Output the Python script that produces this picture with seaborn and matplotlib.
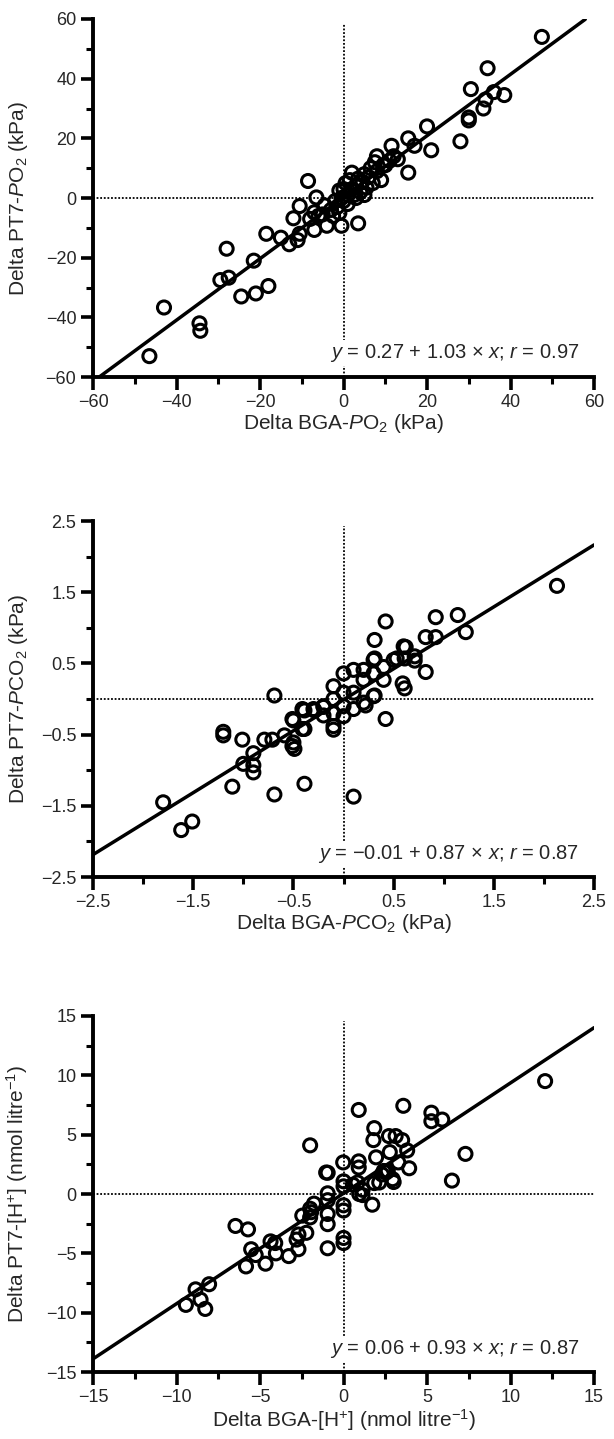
import numpy as np
import pandas as pd
import matplotlib
matplotlib.use("Agg")
import matplotlib.pyplot as plt
from matplotlib.ticker import FixedLocator
import seaborn as sns

# ---------------- data ----------------
# Panel 1: PO2 (kPa)
po2_x = [47.5, 34.5, 30.5, 38.5, 36, 34, 33.5, 30, 30, 28, 20, 21, 15.5, 11.5, 17, 15.5, 8, 13, 10,
         -8.5, -6.5, -10.5, -12, -7, -7, -4, -0.5, 3.5, -18.5, -15, -13, -11, -10.5, -28, -21.5,
         -29.5, -27.5, -18, -24.5, -21, -43, -34.5, -34.3, -46.5,
         -3, -2, -1.5, -1, -0.5, 0, 0, 0.5, 1, 1.5, 2, 2, 2.5, 3, 3.5, 4, 4.5, 5, 5.5, 6, 6.5, 7,
         7.5, 8, 9, 9.5, 11, 12, -5, -4.5, -2.5, -1, -6, -8, 1, 3, 5]
po2_y = [54, 43.5, 36.5, 34.5, 35.5, 33, 30, 27, 26, 19, 24, 16, 20, 17.5, 17.5, 8.5, 14, 13, 11,
         5.7, 0.2, -2.7, -6.8, -4.8, -10.7, -9.3, -9.3, -8.5, -12, -13.3, -15.5, -14.1, -12, -17, -21,
         -27.5, -26.7, -29.5, -33, -32, -36.7, -42, -44.5, -53,
         -4, -1, -3, 2.5, 0, -1, 3, 5, 1, 6, 3, 8.5, 1, 4, 6.5, 2, 5.5, 8, 3.5, 7, 10, 5,
         12, 9, 6, 11, 12.5, 14, -5.5, -2.5, -6, -5, -6, -7, -2, 0, 1]
po2_fit = (0.27, 1.03, 0.97)

# Panel 2: PCO2 (kPa)
pco2_x = [2.13, 1.14, 0.92, 1.22, 0.82, 0.92, 0.42, 0.31, 0.62, 0.71, 0.82, 0.31, 0.53, 0.61, 0.71,
          0.59, 0.61, 0.42, 0.22, 0.31, -0.69, -1.20, -1.20, -1.01, -0.79, -0.71, -0.59, -0.50, -0.49,
          -0.90, -1.00, -0.90, -0.90, -1.11, -0.69, -0.39, 0.10, -1.80, -1.62, -1.51, -0.50, -0.39,
          -0.39, -0.29, -0.20, -0.20,
          0.0, -0.10, -0.10, -0.10, -0.10, -0.10, 0.0, 0.0, 0.0, 0.10, 0.10, 0.10, 0.20, 0.20, 0.20,
          0.30, 0.30, 0.30, 0.40, 0.40, 0.50, 0.60, -0.20, -0.30, -0.41, -0.51, -0.41, -0.51]
pco2_y = [1.59, 1.18, 1.15, 0.94, 0.87, 0.87, 1.09, 0.83, 0.73, 0.60, 0.38, 0.57, 0.57, 0.57, 0.54,
          0.22, 0.15, -0.28, -0.09, 0.05, 0.05, -0.46, -0.51, -0.57, -0.57, -0.57, -0.51, -0.61, -0.70,
          -0.76, -0.91, -0.93, -1.03, -1.23, -1.34, -1.19, -1.37, -1.45, -1.84, -1.72, -0.30, -0.16,
          -0.42, -0.16, -0.11, -0.23,
          0.36, 0.18, 0.0, -0.20, -0.38, -0.43, 0.09, -0.10, -0.24, 0.41, 0.09, -0.14, 0.41, 0.27, -0.05,
          0.55, 0.36, 0.04, 0.45, 0.27, 0.55, 0.74, -0.10, -0.14, -0.14, -0.28, -0.42, -0.66]
pco2_fit = (-0.01, 0.87, 0.87)

# Panel 3: [H+] (nmol/litre)
h_x = [12.07, 0.91, 3.58, 5.26, 5.26, 5.91, 1.84, 1.79, 2.72, 3.12, 3.51, 3.81, 2.77, 7.30, 1.95,
       3.28, 3.93, 0.91, 0.91, -0.02, 6.49, -0.95, -2.0, 1.84, 3.0, 2.3, 2.4, 2.65, 0.0, 0.0, 0.56,
       1.14, 1.14, 1.72, -0.95, -0.95, -1.77, -2.0, -2.0, -2.47, -0.95, -0.95, 0.0, 0.0, 0.0, 0.0,
       -0.95, -2.70, -2.81, -2.23, -2.70, -3.28, -4.09, -4.37, -4.05, -4.67, -5.26, -5.53, -5.84,
       -5.72, -6.47, -8.05, -8.86, -8.56, -8.28, -9.44, 0.84, 0.94, 2.54, 2.14, 2.94, -1.04, -1.94]
h_y = [9.51, 7.08, 7.43, 6.85, 6.13, 6.27, 5.55, 4.54, 4.88, 4.88, 4.54, 3.67, 3.53, 3.38, 3.09,
       2.66, 2.17, 2.75, 2.23, 2.66, 1.13, 1.79, 4.10, 0.92, 1.01, 1.65, 1.94, 1.94, 1.07, 0.64, 0.78,
       0.35, -0.09, -0.90, 0.06, -0.52, -0.81, -1.24, -1.97, -1.82, -1.68, -2.54, -0.95, -1.39, -3.70,
       -4.13, -4.57, -3.41, -3.84, -3.27, -4.65, -5.23, -4.13, -3.99, -5.0, -5.87, -5.14, -4.65, -6.10,
       -2.98, -2.69, -7.60, -8.03, -8.90, -9.68, -9.34, 0.97, 0.0, 1.81, 0.97, 1.25, 1.81, -1.53]
h_fit = (0.06, 0.93, 0.87)

# ---------------- style ----------------
sns.set_style("ticks")
plt.rcParams["font.family"] = ["Liberation Sans", "DejaVu Sans"]
plt.rcParams["mathtext.fontset"] = "custom"
plt.rcParams["mathtext.rm"] = "Liberation Sans"
plt.rcParams["mathtext.it"] = "Liberation Sans:italic"
plt.rcParams["mathtext.bf"] = "Liberation Sans:bold"

fig = plt.figure(figsize=(6.14, 14.39), dpi=100)

left, width = 0.1515, 0.816
panels = [
    dict(x=po2_x, y=po2_y, fit=po2_fit, lim=60, minor=[-50, -30, -10, 10, 30, 50],
         ticks=[-60, -40, -20, 0, 20, 40, 60],
         xlabel="Delta BGA-$P$O$_2$ (kPa)", ylabel="Delta PT7-$P$O$_2$ (kPa)",
         rect=[left, 0.738, width, 0.2488]),
    dict(x=pco2_x, y=pco2_y, fit=pco2_fit, lim=2.5, minor=[-2, -1, 0, 1, 2],
         ticks=[-2.5, -1.5, -0.5, 0.5, 1.5, 2.5],
         xlabel="Delta BGA-$P$CO$_2$ (kPa)", ylabel="Delta PT7-$P$CO$_2$ (kPa)",
         rect=[left, 0.3905, width, 0.2474]),
    dict(x=h_x, y=h_y, fit=h_fit, lim=15, minor=[-12.5, -7.5, -2.5, 2.5, 7.5, 12.5],
         ticks=[-15, -10, -5, 0, 5, 10, 15],
         xlabel="Delta BGA-[H$^{+}$] (nmol litre$^{-1}$)",
         ylabel="Delta PT7-[H$^{+}$] (nmol litre$^{-1}$)",
         rect=[left, 0.0465, width, 0.2475]),
]

def fmt(v):
    s = f"{v:g}"
    return s.replace("-", "\u2212")

for p in panels:
    ax = fig.add_axes(p["rect"])
    lim = p["lim"]
    ax.set_xlim(-lim, lim)
    ax.set_ylim(-lim, lim)

    # reference lines at zero
    ax.axhline(0, color="black", lw=1.3, ls=(0, (1, 1)), zorder=1)
    ax.axvline(0, ymin=0, ymax=0.985, color="black", lw=1.3, ls=(0, (1, 1)), zorder=1)

    # regression line from the reported equation
    a, b, r = p["fit"]
    xl = np.linspace(-lim, lim, 400)
    yl = a + b * xl
    m = (yl >= -lim) & (yl <= lim)
    sns.lineplot(x=xl[m], y=yl[m], ax=ax, color="black", lw=2.5, zorder=3)

    df = pd.DataFrame({"x": p["x"], "y": p["y"]})
    sns.scatterplot(data=df, x="x", y="y", ax=ax, marker="o", s=88,
                    facecolor="none", edgecolor="black", linewidth=2.2, zorder=4)

    # ticks
    ax.xaxis.set_major_locator(FixedLocator(p["ticks"]))
    ax.yaxis.set_major_locator(FixedLocator(p["ticks"]))
    ax.xaxis.set_minor_locator(FixedLocator(p["minor"]))
    ax.yaxis.set_minor_locator(FixedLocator(p["minor"]))
    ax.set_xticklabels([fmt(t) for t in p["ticks"]])
    ax.set_yticklabels([fmt(t) for t in p["ticks"]])
    ax.tick_params(which="major", direction="out", length=9, width=2.6, labelsize=13, pad=3, color="black")
    ax.tick_params(which="minor", direction="out", length=5, width=2.2, color="black")

    for side in ["top", "right"]:
        ax.spines[side].set_visible(False)
    for side in ["left", "bottom"]:
        ax.spines[side].set_linewidth(2.8)
        ax.spines[side].set_color("black")

    ax.set_xlabel(p["xlabel"], fontsize=15, labelpad=1)
    ax.set_ylabel(p["ylabel"], fontsize=15)
    ax.yaxis.set_label_coords(-0.125, 0.5)

    a_s = f"{a:.2f}".replace("-", "\u2212")
    eq = f"$y$ = {a_s} + {b:.2f} \u00d7 $x$; $r$ = {r:.2f}"
    ax.text(0.97, 0.066, eq, transform=ax.transAxes, ha="right", va="center", fontsize=14.5,
            zorder=5, bbox=dict(facecolor="white", edgecolor="none", pad=1.5))

fig.savefig("out.png", dpi=100, facecolor="white")
